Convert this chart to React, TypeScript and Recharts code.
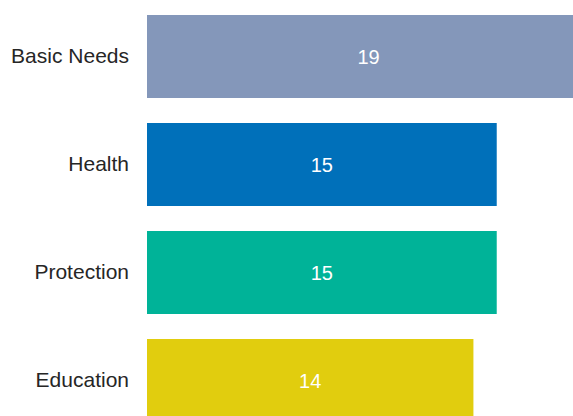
import { BarChart, Bar, XAxis, YAxis, Cell, LabelList } from "recharts";

const categories = ["Basic Needs", "Health", "Protection", "Education"];
const values = [19, 15, 15, 14];
const colors = ["#8497BA", "#0070BA", "#00B398", "#E1CD0E"];

const data = categories.map((name, i) => ({ name, value: values[i] }));

export default function App() {
  return (
    <div
      style={{
        position: "fixed",
        left: 0,
        top: 0,
        width: 573,
        height: 416,
        overflow: "hidden",
        background: "#fff",
      }}
    >
      <BarChart
        width={590}
        height={434}
        data={data}
        layout="vertical"
        margin={{ top: 2, right: 0, bottom: 0, left: 0 }}
      >
        <XAxis type="number" domain={[0, 19]} hide />
        <YAxis
          type="category"
          dataKey="name"
          width={147}
          axisLine={false}
          tickLine={false}
          tickMargin={12}
          tick={{
            fontSize: 21,
            fill: "#262626",
            dy: "0.42em",
            fontFamily: "Liberation Sans, Arial, sans-serif",
          }}
        />
        <Bar dataKey="value" barSize={83} isAnimationActive={false}>
          {data.map((d, i) => (
            <Cell key={d.name} fill={colors[i]} />
          ))}
          <LabelList
            dataKey="value"
            position="center"
            fill="#ffffff"
            style={{ fontSize: 20, fontFamily: "Liberation Sans, Arial, sans-serif" }}
          />
        </Bar>
      </BarChart>
    </div>
  );
}
